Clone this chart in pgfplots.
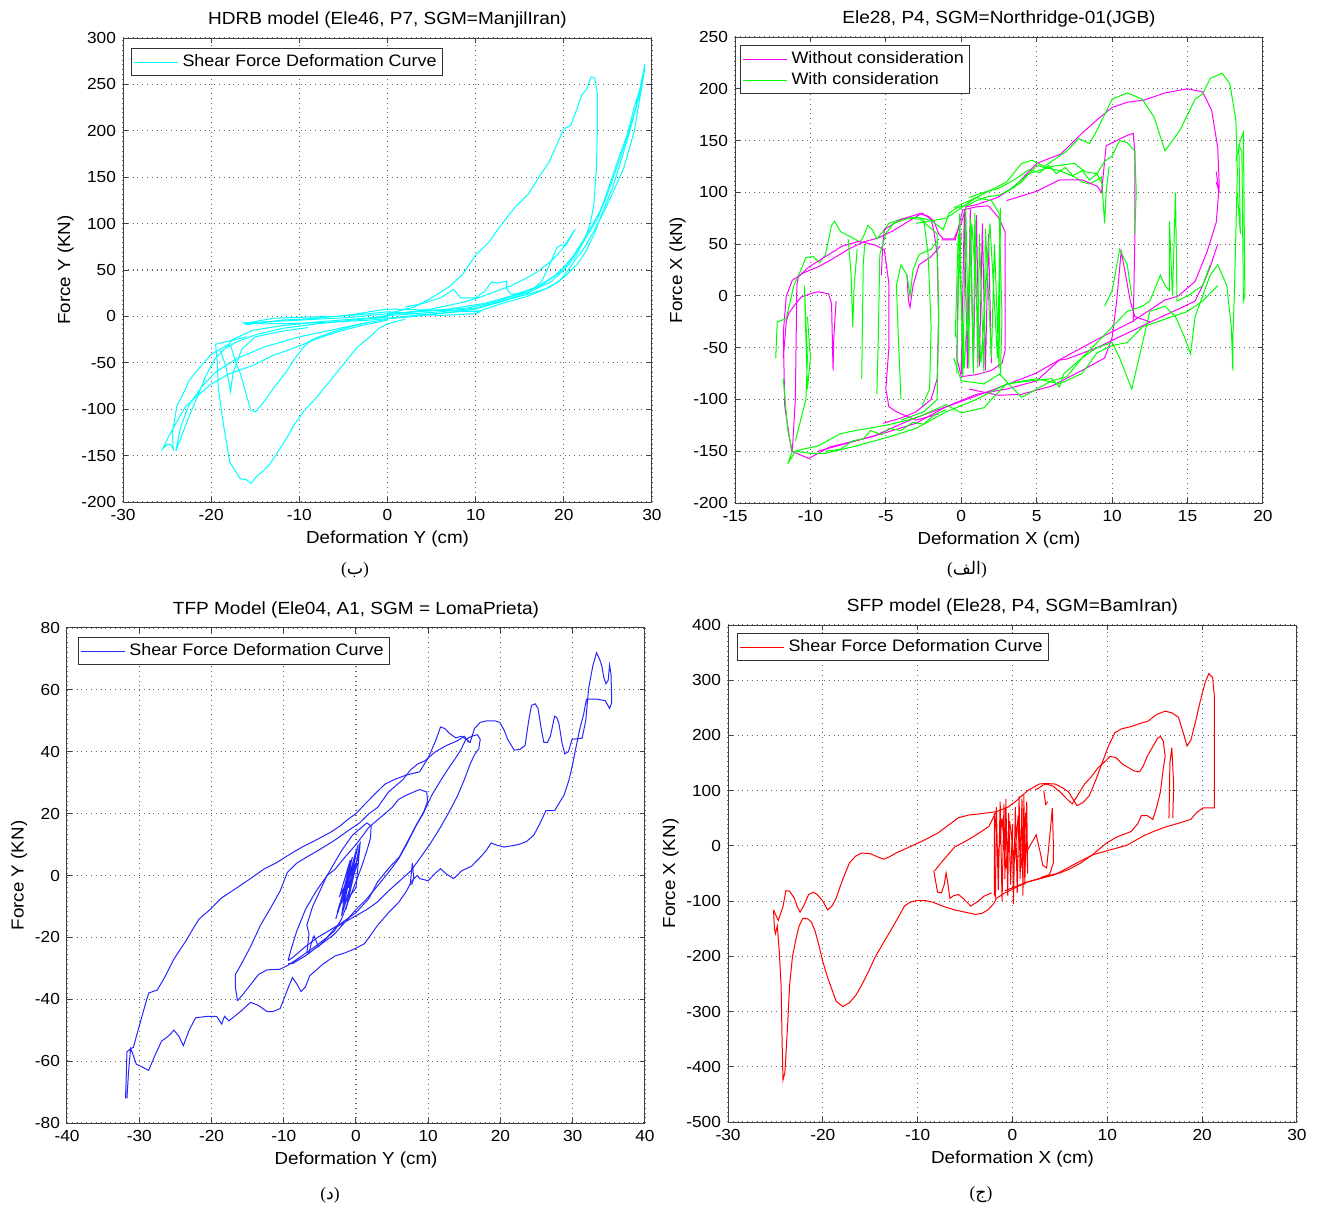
\documentclass[border=0pt]{standalone}
\usepackage{pgfplots}
\pgfplotsset{compat=1.18}
\usepackage{fontspec}
\setmainfont{Liberation Sans}[FakeStretch=1.08]
\newfontfamily\arabicfont[Script=Arabic]{DejaVu Sans}
\newfontfamily\seriffont{Liberation Serif}
\TeXXeTstate=1
\definecolor{mcyan}{rgb}{0,1,1}
\definecolor{mmag}{rgb}{1,0,1}
\definecolor{mgreen}{rgb}{0,1,0}
\definecolor{mblue}{rgb}{0.15,0.15,1}
\definecolor{mred}{rgb}{1,0,0}
\newcommand{\fs}{\fontsize{8.7}{10}\selectfont}
\newcommand{\fst}{\fontsize{8.8}{10}\selectfont}
\newcommand{\fsk}{\fontsize{8}{10}\selectfont}
\newcommand{\fsl}{\fontsize{8.3}{10}\selectfont}
\pgfplotsset{
  mat/.style={
    scale only axis,
    grid=major,
    major grid style={black!60, dotted, line width=0.6pt},
    tick align=inside,
    major tick length=2.5pt,
    axis line style={black!75, line width=0.5pt},
    tick style={black!75, line width=0.5pt},
    every tick label/.append style={font=\fsk},
    label style={font=\fs},
    ylabel shift=-3pt,
    xlabel shift=-1.5pt,
    title style={font=\fst, yshift=-4.5pt},
    /pgf/number format/assume math mode=true,
    scaled ticks=false,
    legend cell align=left,
    legend style={font=\fsl, draw=black!80, line width=0.5pt, fill=white,
      at={(0,1)}, anchor=north west, inner sep=1pt, row sep=-1pt},
    legend image code/.code={\draw[#1] (0pt,0pt) -- (22pt,0pt);},
    every axis plot/.append style={line width=0.5pt},
  }
}
\begin{document}
\begin{tikzpicture}
\path[use as bounding box] (0,0) rectangle (659.5pt,-605pt);

%================ HDRB (top-left) =================
\begin{axis}[mat, at={(61.5pt,-251pt)}, anchor=south west,
  width=264.5pt, height=232pt,
  xmin=-30, xmax=30, ymin=-200, ymax=300,
  xtick={-30,-20,...,30}, ytick={-200,-150,...,300},
  title={HDRB model (Ele46, P7, SGM=ManjilIran)},
  xlabel={Deformation Y (cm)}, ylabel={Force Y (KN)},
  legend style={xshift=4pt, yshift=-5pt}]
\addplot[mcyan] coordinates {(-16.5,-7) (-12,-5) (-8,-3) (-4,-1) (0,3) (3,10) (5,20) (7,32) (8.5,45) (10,66) (11.5,80) (13,100) (14.5,118) (16,132) (17.3,152) (18.3,166) (19.2,185) (20,202) (20.8,206) (21.5,224) (22,238) (22.6,245) (23.1,258) (23.5,257) (23.8,240) (23.8,200) (23.7,160) (23.4,120) (23,100) (22.4,84) (21.4,66) (20,50) (18.5,37) (16,26) (13,16) (10,8) (6,3) (2,-1) (-2,-4) (-6,-6) (-10,-7.5) (-14,-8) (-16.5,-7)};
\addlegendentry{Shear Force Deformation Curve}
\addplot[mcyan, forget plot] coordinates {(0,-2) (4,2) (8,5) (10.5,6) (13,14) (16,22) (18.5,32) (20,42) (21.5,56) (22.5,70) (23.5,90) (24.5,115) (25.5,138) (26.5,168) (27.5,200) (28.3,230) (29.2,272) (28.8,250) (28,226) (27.2,196) (26.2,170) (25.2,142) (24.2,115) (23.2,98) (22.2,82) (21,64) (19.5,47) (17.5,34) (15,24) (12,15) (9,9) (5,6) (2,4) (0,2)};
\addplot[mcyan, forget plot] coordinates {(-1,0) (3,3) (6,5) (10,9) (13.5,18) (16,24) (18,30) (19.5,38) (20.5,50) (21.2,60) (22.2,72) (23.3,90) (24.4,110) (25.5,132) (26.8,160) (28,200) (29.2,268) (28.6,240) (27.8,212) (26.9,185) (25.8,155) (24.8,128) (23.8,105) (22.6,86) (21.5,70) (20.3,56) (19,44) (17,32) (14,22) (11,14) (7,8) (3,5) (0,3)};
\addplot[mcyan, forget plot] coordinates {(2,10) (4,14) (6,20) (7.5,29) (8.3,20) (10,20) (11,27) (11.8,37) (12.5,36) (13.5,38) (13.5,30) (14,24) (16,25) (17.5,38) (18.5,58) (19.2,74) (19.7,77) (20.2,76) (21.3,94) (20.6,84) (19.8,72) (18.6,60) (17,48) (15.5,40) (14,33) (12,26) (10,19) (8,14) (5,8) (2,4)};
\addplot[mcyan, forget plot] coordinates {(0,-4) (-3,-10) (-5.8,-17) (-8,-24) (-10.3,-33) (-13,-42) (-15.3,-53) (-18,-62) (-20,-73) (-21.5,-85) (-22.9,-97) (-24,-115) (-24.8,-129) (-25.5,-143) (-25,-138) (-24.6,-138) (-24.3,-143) (-24.4,-125) (-23.9,-97) (-23,-80) (-22.5,-69) (-21.3,-55) (-20,-41) (-18,-30) (-17.6,-25) (-15.3,-15) (-12,-10) (-8,-6) (-4,-3) (0,0)};
\addplot[mcyan, forget plot] coordinates {(-2,-6) (-6,-14) (-10,-22) (-14,-33) (-17,-45) (-19.5,-60) (-21,-75) (-22.5,-95) (-23.5,-120) (-24,-145) (-23.4,-130) (-22.6,-110) (-21.5,-85) (-20.5,-62) (-19.5,-45) (-18.5,-35) (-17,-27) (-15,-20) (-12,-13) (-8,-8) (-4,-4) (0,-1)};
\addplot[mcyan, forget plot] coordinates {(-16,-22) (-19.5,-30) (-19.3,-50) (-19.2,-77) (-18.6,-117) (-17.9,-157) (-16.7,-175) (-16,-176) (-15.5,-180) (-14.8,-172) (-14.4,-169) (-13.4,-160) (-12.5,-147) (-11.5,-132) (-10.6,-117) (-9.5,-102) (-8.2,-89) (-7,-75) (-5.8,-61) (-4.6,-47) (-3.4,-33) (-2,-22) (-1,-13) (0,-8) (2,-3)};
\addplot[mcyan, forget plot] coordinates {(-18.5,-32) (-17.8,-31) (-17.2,-50) (-16.7,-61) (-16,-85) (-15.5,-101) (-15,-103) (-14.8,-101) (-14,-92) (-12.9,-77) (-11.5,-60) (-10.5,-45) (-9.5,-33) (-8.6,-25) (-6,-16) (-3,-8) (0,-3)};
\addplot[mcyan, forget plot] coordinates {(-19,-35) (-18.3,-55) (-17.8,-81) (-17.5,-60) (-16.5,-35) (-15,-22) (-12,-16) (-9,-12)};
\addplot[mcyan, forget plot] coordinates {(-16.3,-8) (-13,-2) (-10,-1) (-6,0) (-3,2) (0,5) (3,3) (6,1) (10,3) (10.5,5) (8,6) (4,7) (0,8) (-4,2) (-8,-2) (-12,-4) (-16,-9)};
\end{axis}

%================ Ele28 (top-right) =================
\begin{axis}[mat, at={(367.5pt,-251.5pt)}, anchor=south west,
  width=264pt, height=233pt,
  xmin=-15, xmax=20, ymin=-200, ymax=250,
  xtick={-15,-10,...,20}, ytick={-200,-150,...,250},
  title={Ele28, P4, SGM=Northridge-01(JGB)},
  xlabel={Deformation X (cm)}, ylabel={Force X (kN)},
  legend style={xshift=2.5pt, yshift=-4pt}]
\addplot[mmag] coordinates {(-11.8,-36) (-11.6,0) (-11.2,15) (-10.5,22) (-9.5,28) (-8.5,36) (-7.5,45) (-6.5,52) (-5.5,56) (-4.5,63) (-3.5,72) (-2.7,79) (-2.2,77) (-1.8,72) (-1.5,60) (-1.2,55) (-0.5,55) (0,70) (0.3,86) (1,88) (2.4,95) (3.5,105) (5,128) (6.6,137) (8,157) (9,170) (10,182) (11,187) (12.1,189) (13.5,196) (15,200) (16,197) (16.6,179) (17,143) (17.1,107) (16.9,71) (16.3,43) (15.5,14) (14.4,0) (13.5,-4) (11.3,-25) (9.4,-39) (6.6,-61) (4.9,-75) (2.4,-89) (-0.4,-104) (-3.1,-118) (-5.9,-136) (-8.75,-146) (-10.1,-157) (-11.25,-150) (-11.7,-107) (-11.8,-36)};
\addlegendentry{Without consideration}
\addplot[mgreen] coordinates {(-12.3,-60) (-12.2,-25) (-11.6,-22) (-11.1,10) (-10.6,26) (-10.3,37) (-9.8,38) (-9.4,32) (-9,40) (-8.6,68) (-8.4,72) (-8,62) (-7.2,56) (-6.7,52) (-6.4,60) (-6.2,68) (-5.9,64) (-5.6,55) (-5.2,62) (-4.8,70) (-4,74) (-3,76) (-2,73) (-1.2,64) (-0.8,80) (-0.3,85) (0.5,88) (1,92) (1.8,96) (2.5,97) (3.5,105) (4,110) (5,126) (5.5,124) (6.5,121) (7,118) (7.5,115) (8,110) (8.5,108) (9,112) (9.3,115) (9.5,70) (9.6,100) (9.8,125)};
\addlegendentry{With consideration}
\addplot[mmag, forget plot] coordinates {(-11.8,-60) (-11.6,-25) (-11.45,-17) (-11,-8) (-10.6,-1) (-10,2) (-9.5,4) (-8.8,2) (-8.6,-7.5) (-8.5,-72) (-8.45,-40) (-8.3,-5)};
\addplot[mmag, forget plot] coordinates {(-11.2,-150) (-11,-100) (-10.9,10) (-10.8,18.5) (-10.1,28) (-9,38) (-7.9,48) (-6.8,52.6) (-5.7,49) (-5.1,44.5) (-4.8,12) (-4.8,-50) (-5,-90) (-4.8,-107) (-4.3,-112) (-3,-120) (-1.5,-114)};
\addplot[mmag, forget plot] coordinates {(-5.3,20) (-5.2,50) (-5.1,64) (-4,74) (-2.6,80) (-2,74) (-1.8,61) (-1.6,40) (-1.5,-20) (-1.6,-80) (-2,-100) (-3,-112) (-4,-118) (-5.2,-123)};
\addplot[mmag, forget plot] coordinates {(-3.6,20) (-3.5,-5) (-3.4,-11) (-3.2,10) (-2.8,30) (-2,38) (-1.4,48)};
\addplot[mmag, forget plot] coordinates {(-1.3,54) (-0.4,54) (0.1,83) (1,86) (1.8,87) (2.5,75) (2.9,62) (2.9,0) (2.9,-53) (2.7,-65) (2,-72) (1,-76) (0,-78) (-0.3,-60) (-0.2,20) (0,60)};
\addplot[mmag, forget plot] coordinates {(0,-75) (0.2,80) (0.4,-70) (0.6,84) (0.8,-72) (1,78) (1.2,-68) (1.4,70) (1.6,-72) (1.8,60) (2,-65)};
\addplot[mmag, forget plot] coordinates {(-9.5,-150) (-7,-140) (-5,-132) (-3,-123) (-1,-107) (1,-95) (3,-90) (5,-82) (6.5,-62) (7,-61) (9,-50) (11,-36) (13,-22) (14.5,-12) (15.5,-5) (16,10) (16.5,28) (17,50)};
\addplot[mmag, forget plot] coordinates {(0.5,-90) (2.5,-96) (4,-95) (6,-87) (8,-72) (9.5,-60) (10,-40) (10.3,-5) (10.6,43) (10.9,20) (11.2,-5) (11.5,-20) (12.5,-25)};
\addplot[mmag, forget plot] coordinates {(3,92) (5,101) (6.5,112) (8,112) (9,106) (9.3,100) (9.6,145) (10.3,150) (11,155) (11.4,157) (11.5,140) (11.5,50) (11.4,-25)};
\addplot[mmag, forget plot] coordinates {(16.9,120) (17.1,100) (16.9,110)};
\addplot[mgreen, forget plot] coordinates {(-3,70) (-1,75) (1,95) (3,110) (4,128) (4.7,131) (5.5,125) (7,140) (7.8,152) (8.5,147) (9,160) (10,190) (11,196) (12,190) (12.8,172) (13.5,140) (14.5,160) (15.5,190) (16,195) (16.5,210) (17.3,215) (17.8,205) (18.2,170) (18.3,120) (18.2,60) (18.1,0) (18,-40) (18,-72) (17.9,-30) (17.6,10) (17,30) (16.5,20) (16,0) (15.5,-20) (15.2,-56) (14.8,-40) (14.2,-20) (13.5,-10) (12.5,-15) (11.3,-90) (10.5,-60) (10,-45) (9,-50) (8,-60) (6.8,-75) (6.5,-88) (6,-80) (4.6,-82) (3,-85) (2,-100) (1.5,-108) (0,-113) (-1,-105) (-3,-118) (-5,-125) (-7,-130) (-8,-133) (-9.5,-145) (-10.5,-148) (-11,-150) (-11.5,-162) (-11.2,-150) (-11.5,-130) (-11.8,-80)};
\addplot[mgreen, forget plot] coordinates {(18.2,130) (18.5,150) (18.7,158) (18.8,0) (18.7,-5) (18.6,140) (18.4,145) (18.5,60) (18.3,100)};
\addplot[mgreen, forget plot] coordinates {(-11,-150) (-10,-152) (-9,-152) (-7,-145) (-5,-137) (-3,-128) (-1,-112) (1,-100) (3,-85) (5,-80) (6.5,-85) (8,-75) (9,-55) (10,-48) (11,-45) (12,-30) (13,-25) (15,-15) (16,-5) (17,10)};
\addplot[mgreen, forget plot] coordinates {(-11,-140) (-10.3,-100) (-10.2,-60) (-10.4,10) (-10.2,-90) (-10,-60) (-10.2,-20)};
\addplot[mgreen, forget plot] coordinates {(-6.6,-80) (-6.5,30) (-6.4,50)};
\addplot[mgreen, forget plot] coordinates {(-5.6,-95) (-5.5,-40) (-5.4,40) (-5,60) (-4.5,70) (-3.5,75) (-2.7,74) (-1.6,60) (-1.5,-20) (-1.6,-100) (-2.5,-112) (-4,-120)};
\addplot[mgreen, forget plot] coordinates {(-4,-100) (-4.2,-30) (-4.3,10) (-4,30) (-3.6,20) (-3.4,0) (-3.2,25) (-2.8,40) (-2,45) (-1.5,55)};
\addplot[mgreen, forget plot] coordinates {(-0.3,-75) (-0.1,80) (0.1,-78) (0.3,85) (0.5,-70) (0.6,75) (0.8,-75) (0.9,80) (1.1,-70) (1.2,60) (1.5,-75) (1.6,65) (2,-60) (2.2,50) (2.5,-70) (2.6,85) (2.4,-60) (1.9,70) (1.3,-65) (0.7,70) (0.2,-70) (-0.2,60) (-0.4,-40)};
\addplot[mgreen, forget plot] coordinates {(-0.5,85) (1,95) (2,92) (2.5,80) (2.7,-20) (2.6,-75) (1.5,-85) (0,-82) (-0.5,-60)};
\addplot[mgreen, forget plot] coordinates {(2.5,-75) (4,-98) (5,-90) (6,-82) (7,-78) (8,-60) (9,-45) (10,-30) (11,-15) (12,-10) (12.5,-5) (13.2,20) (13.5,10) (13.8,5) (13.8,72) (14,0) (14.2,100) (14.3,-5) (15,0) (16,10) (16.5,30)};
\addplot[mgreen, forget plot] coordinates {(3,100) (4.5,118) (6,125) (7.5,128) (8.2,120) (9,118) (9.5,130) (10,135) (10.5,150) (11,148) (11.5,140) (11.6,100) (11.5,60)};
\addplot[mgreen, forget plot] coordinates {(9.5,-10) (10,5) (10.5,45) (11,30) (11.3,0)};
\addplot[mgreen, forget plot] coordinates {(0.5,95) (1.5,100) (2.5,104) (3.5,112) (4.5,122) (5.2,119) (5.8,126) (6.3,118) (6.9,124) (7.4,116) (8,121) (8.5,112) (9,118) (9.4,106)};
\addplot[mgreen, forget plot] coordinates {(-9,-150) (-8,-148) (-7.2,-140) (-6.5,-138) (-6,-130) (-5.3,-134) (-4.8,-128) (-4,-130) (-3.2,-122) (-2.5,-124) (-1.8,-115) (-1,-110)};
\addplot[mgreen, forget plot] coordinates {(-2.5,75) (-2.2,40) (-2,-30) (-2.1,-90) (-2.6,-106)};
\addplot[mgreen, forget plot] coordinates {(-7.5,55) (-7.3,20) (-7.2,-30) (-7.1,10) (-6.9,45)};
\end{axis}

%================ TFP (bottom-left) =================
\begin{axis}[mat, at={(33.5pt,-561.5pt)}, anchor=south west,
  width=289pt, height=247.5pt,
  xmin=-40, xmax=40, ymin=-80, ymax=80,
  xtick={-40,-30,...,40}, ytick={-80,-60,...,80},
  title={TFP Model (Ele04, A1, SGM = LomaPrieta)},
  xlabel={Deformation Y (cm)}, ylabel={Force Y (KN)},
  legend style={xshift=5.5pt, yshift=-4.5pt}]
\addplot[mblue] coordinates {(-31.9,-72) (-31.8,-65) (-31.7,-57) (-31.2,-56) (-30.8,-55.5) (-30.4,-52) (-29.8,-47) (-29.2,-42) (-28.7,-38) (-27.5,-37) (-26.5,-33) (-25.2,-27) (-23.5,-21) (-22.5,-17) (-21.7,-14) (-20.2,-11) (-18.7,-7.4) (-16.5,-4) (-14.6,-1) (-12.8,2) (-11.1,4) (-9.4,6.5) (-7.6,9) (-5.5,11.5) (-3.5,14) (-2.2,16) (-1.2,18) (0,20) (1.2,23) (2.9,27) (4,29.5) (5.3,31) (7,32.5) (8.8,33.5) (10,38) (11.1,44) (11.7,48) (12.3,47.5) (12.9,46) (13.8,44.5) (14.6,45) (15.3,44) (15.8,43) (16.4,47.5) (17.2,49.5) (18.1,50) (19.2,50) (19.9,49.5) (20.5,47) (21,44) (21.9,40.5) (22.7,40.8) (23.4,42) (23.9,50) (24.3,55) (24.8,55.5) (25.2,54) (25.6,48) (26,43) (26.5,43) (26.9,45) (27.5,51.5) (27.8,51) (28.1,49) (28.5,43) (28.9,39.3) (29.4,40) (29.9,44) (30.6,44.2) (31.3,44.4) (31.8,50) (32.2,60.4) (32.8,68) (33.3,72) (33.7,70) (34,68) (34.3,64) (34.6,62) (34.9,63) (35.1,68) (35.3,65) (35.4,56) (35.1,54) (34.5,56.5) (33.4,57) (32.5,57) (31.9,57) (31.5,52) (31,47.6) (30.5,42) (29.9,35) (29.5,31) (28.8,26) (27.5,21) (26.3,21) (25.5,17) (24.6,13) (23.6,11) (22.5,10) (20.5,9.2) (19.5,9.8) (18.7,10.5) (18,8) (17,5.4) (16,3) (14.6,1.5) (14,0) (13.5,-1) (12.5,0.5) (11.7,2.2) (11,0.8) (10,-1.7) (8.8,-1) (8.5,0) (8,-1) (7.6,-2.3) (7,-5) (5.9,-8.7) (4.5,-12) (2.9,-16.4) (1.8,-20) (1.2,-22) (0,-23.5) (-1.5,-25) (-2.9,-26) (-4.5,-28.5) (-6.4,-32.4) (-7,-36) (-7.6,-37.5) (-8.2,-35) (-8.8,-33) (-9.5,-37) (-10.5,-43) (-11.5,-44) (-12.3,-44) (-13.5,-42) (-14.6,-41) (-16,-44) (-17.6,-47) (-18.2,-45.5) (-18.6,-48) (-19.3,-45.5) (-20.5,-45.5) (-22.2,-46) (-23.1,-50) (-23.9,-55) (-24.5,-52) (-25.2,-50) (-26,-52) (-26.9,-53.5) (-27.8,-58) (-28.7,-63) (-29.5,-62) (-30.4,-61) (-31,-57) (-31.2,-56) (-31.5,-64) (-31.7,-72)};
\addlegendentry{Shear Force Deformation Curve}
\addplot[mblue, forget plot] coordinates {(-16.4,-40.5) (-15.5,-38) (-13.5,-32) (-12.3,-30.5) (-10.5,-30.3) (-9.4,-29) (-7.5,-26) (-5.9,-23.4) (-4,-20) (-2.9,-17) (-1.5,-15) (0,-13) (1.5,-11) (2.9,-8.7) (4.5,-5) (6.4,-1) (7.6,1.5) (8.8,5.4) (10.2,10) (11.7,15.6) (13,21) (14.1,26) (15,31) (15.8,36) (16.4,39) (17,41) (17.2,44) (16.8,45.5) (16,45) (15.2,44) (14.6,41) (13.8,38) (12.9,35) (11.8,31) (10.5,26) (9.3,20) (8.2,15.6) (7,10) (5.9,5.4) (4.5,1) (2.9,-3.6) (1.5,-7.5) (0,-11) (-1.5,-15) (-3,-19) (-5.3,-23) (-7,-26) (-8.8,-28.5) (-9.4,-28.5)};
\addplot[mblue, forget plot] coordinates {(-16.4,-40.5) (-16.7,-36) (-16.7,-32) (-16.2,-30) (-15.5,-27) (-14.6,-23) (-13.2,-16) (-11.7,-10) (-10.5,-5) (-9.5,1) (-8.2,4) (-6.8,6) (-5.3,8) (-3.2,11) (-1.2,14.3) (0.5,17) (1.8,20) (3,22) (4.5,27) (5.5,29) (6.5,31) (7.5,34) (8.5,36) (9.5,37) (11,40) (12.5,42) (14,43.5) (15,45) (15.6,43)};
\addplot[mblue, forget plot] coordinates {(-9.4,-27.5) (-9,-24) (-8.2,-18) (-7,-11) (-5.5,-5) (-4,0) (-2.9,2) (-1.5,6) (0,10) (1.8,15.6) (3.5,19) (5,22) (5.9,24.6) (7,26) (8.8,27.8) (9.8,27) (9.9,24) (9.4,20.7) (8.5,17) (7.6,13) (6,6) (4.7,2.8) (3,-2) (1.8,-7.4) (0,-12) (-1.8,-15) (-3.5,-17.5) (-5.3,-20) (-7,-23) (-8.8,-26.6) (-9.4,-27.5)};
\addplot[mblue, forget plot] coordinates {(-6.8,-25) (-6.5,-19) (-6.8,-16) (-6,-10) (-5,-5) (-4,0) (-3,4) (-2,8) (-0.5,13) (0.5,15) (1.5,17) (2.1,16) (2,12) (1.5,8) (0.8,3) (0,-2) (-1,-8) (-2,-14) (-3,-18) (-4,-20) (-5.2,-23) (-5.8,-19.5) (-6.2,-22) (-6.5,-25) (-6.8,-25)};
\addplot[mblue, forget plot] coordinates {(-2.8,-14) (-1.5,-4) (-2.5,-12) (-1,2) (-2.2,-10) (-0.5,6) (-1.8,-8) (0,8) (-1.5,-6) (0.3,10) (-1,-4) (0.5,8) (-0.8,-2) (0.2,4) (-2,-13) (-1.2,-1) (-2.6,-12) (-0.6,3) (-1.6,-9) (0,-4) (0.6,11) (-0.3,0) (-1.4,-11) (-0.2,2) (-2,-9) (-0.8,5) (-2.3,-7) (0.4,6)};
\addplot[mblue, forget plot] coordinates {(7.5,-3) (7.8,4) (8,-1) (7.7,-3)};
\end{axis}

%================ SFP (bottom-right) =================
\begin{axis}[mat, at={(364pt,-561pt)}, anchor=south west,
  width=284.5pt, height=248.5pt,
  xmin=-30, xmax=30, ymin=-500, ymax=400,
  xtick={-30,-20,...,30}, ytick={-500,-400,...,400},
  title={SFP model (Ele28, P4, SGM=BamIran)},
  xlabel={Deformation X (cm)}, ylabel={Force X (KN)},
  legend style={xshift=4.5pt, yshift=-4pt}]
\addplot[mred] coordinates {(-25.2,-116) (-25.1,-150) (-25,-159) (-24.8,-145) (-24.6,-190) (-24.4,-252) (-24.3,-350) (-24.2,-424) (-24,-410) (-23.9,-381) (-23.7,-320) (-23.5,-252) (-23.2,-200) (-22.8,-166) (-22.5,-145) (-22.1,-131) (-21.6,-132) (-21.2,-138) (-20.8,-155) (-20.4,-181) (-20,-210) (-19.5,-238) (-19,-262) (-18.6,-281) (-17.9,-291) (-17.2,-284) (-16.5,-270) (-15.9,-252) (-15.2,-228) (-14.5,-202) (-13.7,-178) (-12.8,-152) (-12,-128) (-11.4,-109) (-10.8,-102) (-10.1,-99) (-9.2,-99) (-8.4,-102) (-7.2,-110) (-6.1,-116) (-5,-120) (-3.9,-124) (-3.2,-122) (-2.6,-116) (-2,-105) (-1.7,-95) (-0.8,-85) (0.5,-74) (1.5,-66) (2.8,-59) (4,-53) (5,-49) (6,-42) (7.2,-31) (8.5,-15) (9.9,5) (11,16) (12.5,26) (13.2,40) (13.6,55) (14.2,55) (14.8,48) (15.2,70) (15.6,98) (15.9,140) (16.1,162) (15.9,190) (15.6,198) (15.3,195) (14.8,180) (14.2,162) (13.8,145) (13.4,134) (12.8,136) (12.2,142) (11.6,148) (10.9,160) (10.3,162) (9.7,152) (9,141) (8.3,125) (7.6,112) (7,95) (6.3,76) (5.8,84) (5,98) (4.3,108) (3.6,112) (3.2,110) (2.8,105) (2.4,102)};
\addlegendentry{Shear Force Deformation Curve}
\addplot[mred, forget plot] coordinates {(-25.2,-116) (-24.7,-135) (-24.2,-110) (-23.9,-81) (-23.5,-82) (-23,-95) (-22.7,-110) (-22.4,-120) (-22,-108) (-21.5,-88) (-21,-84) (-20.6,-88) (-20,-100) (-19.5,-116) (-19,-108) (-18.6,-95) (-18,-65) (-17.2,-31) (-16.5,-18) (-15.9,-13) (-15,-14) (-14.2,-20) (-13.6,-24) (-13,-20) (-12.3,-13) (-11,-3) (-10,5) (-9,13) (-7.9,23) (-6.8,37) (-5.7,51) (-4.6,56) (-3.5,58) (-2.6,60) (-1.7,62) (-0.5,70) (0.3,80) (1,91) (1.6,100) (2.2,106) (2.8,112) (3.5,113) (4.5,112) (5.3,105) (5.9,98) (6.4,84) (6.8,73) (7.4,78) (8.1,91) (8.8,120) (9.4,148) (10.1,180) (10.8,205) (11.5,212) (12.5,216) (13.5,222) (14.3,226) (15.2,238) (16.1,244) (16.8,241) (17.5,233) (18,205) (18.4,181) (18.8,191) (19.3,225) (19.8,262) (20.3,295) (20.7,312) (21.1,305) (21.3,269) (21.3,180) (21.3,69) (20.7,69) (20.1,69) (19.4,60) (18.8,48) (17.5,41) (16.1,34) (15,27) (13.9,19) (12.1,1.4) (11,-4) (9.9,-9) (8.5,-16) (7.2,-27) (5.8,-40) (4.5,-52) (3,-59) (1.4,-66) (0.3,-74) (-0.8,-81)};
\addplot[mred, forget plot] coordinates {(-8.3,-45) (-8.2,-55) (-7.9,-84) (-7.5,-85) (-7.2,-70) (-7,-49) (-6.8,-70) (-6.6,-95) (-6.2,-90) (-5.7,-88) (-5.2,-95) (-4.4,-109) (-3.6,-100) (-3,-91) (-2.2,-85)};
\addplot[mred, forget plot] coordinates {(-8.2,-45) (-7.5,-30) (-6.1,-2) (-5,8) (-3.9,19) (-2.5,35) (-1.7,62)};
\addplot[mred, forget plot] coordinates {(16.5,50) (16.6,150) (16.8,178) (17,110) (16.9,50)};
\addplot[mred, forget plot] coordinates {(0.5,-20) (1.5,-10) (2.5,20) (2.9,-10) (3.2,-35) (3.6,-40) (4,30) (4.2,69) (4.3,10) (4.3,-31) (3.9,-52) (3,-57)};
\addplot[mred, forget plot] coordinates {(3.3,100) (3.5,75) (3.7,80)};
\addplot[mred, forget plot] coordinates {(-1.8,-95) (-1.7,70) (-1.5,-80) (-1.3,80) (-1.1,-100) (-0.9,75) (-0.8,-60) (-0.7,85) (-0.5,-90) (-0.4,60) (-0.2,-70) (0,40) (0.1,-105) (0.3,70) (0.5,-85) (0.7,90) (0.8,-60) (1,85) (1.1,-90) (1.2,92) (1.3,-70) (1.5,80) (1.6,-50) (1.4,60) (1,-40) (0.6,55) (0.2,-30) (-0.3,45) (-0.7,-40) (-1.1,50) (-1.5,-20) (-1.9,60) (-1.9,-90)};
\end{axis}

%================ captions =================
\node[font=\fs] at (177.5pt,-285pt) {\seriffont(\arabicfont ب\seriffont)};
\node[font=\fs] at (483.5pt,-285pt) {\seriffont(\arabicfont\beginR الف\endR\seriffont)};
\node[font=\fs] at (165pt,-597.5pt) {\seriffont(\arabicfont د\seriffont)};
\node[font=\fs] at (490.5pt,-597.5pt) {\seriffont(\arabicfont ج\seriffont)};
\end{tikzpicture}
\end{document}
